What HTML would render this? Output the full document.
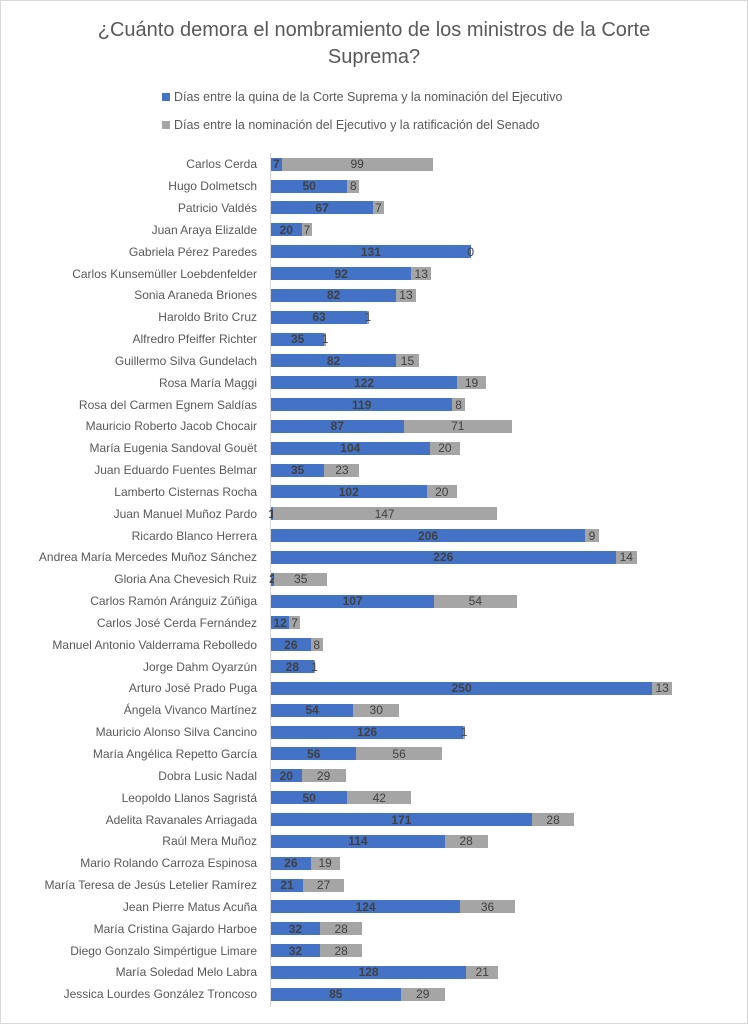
<!DOCTYPE html>
<html><head><meta charset="utf-8"><style>
body{margin:0;background:#fff}
#c{position:relative;width:746px;height:1022px;border:1px solid #d9d9d9;overflow:hidden;font-family:"Liberation Sans",sans-serif;color:#595959}
.t{position:absolute;left:0;width:746px;text-align:center;font-size:20px;line-height:27px}
.lg{position:absolute;left:161px;font-size:12.5px}
.lg i{display:inline-block;width:8px;height:8px;margin-right:4px;vertical-align:0}
.ax{position:absolute;left:269px;top:152px;width:1px;height:854px;background:#d9d9d9}
.r{position:absolute;left:0;height:13px;display:flex;align-items:center;font-size:12px}
.n{width:256px;text-align:right;padding-right:14px;white-space:nowrap;color:#595959}
.b,.g{height:13px;display:flex;justify-content:center;align-items:center;white-space:nowrap;color:#404040;font-size:12px}
.b{background:#4472c4;font-weight:bold}
.g{background:#a5a5a5}
</style></head><body><div id="c">
<div class="t" style="top:16px">¿Cuánto demora el nombramiento de los ministros de la Corte</div>
<div class="t" style="top:43px">Suprema?</div>
<div class="lg" style="top:89px"><i style="background:#4472c4"></i>Días entre la quina de la Corte Suprema y la nominación del Ejecutivo</div>
<div class="lg" style="top:117px"><i style="background:#a5a5a5"></i>Días entre la nominación del Ejecutivo y la ratificación del Senado</div>
<div class="ax"></div>
<div class="r" style="top:calc(156.8px + 21.84px*0)"><div class="n">Carlos Cerda</div><div class="b" style="width:calc(1.525px*7)">7</div><div class="g" style="width:calc(1.525px*99)">99</div></div>
<div class="r" style="top:calc(156.8px + 21.84px*1)"><div class="n">Hugo Dolmetsch</div><div class="b" style="width:calc(1.525px*50)">50</div><div class="g" style="width:calc(1.525px*8)">8</div></div>
<div class="r" style="top:calc(156.8px + 21.84px*2)"><div class="n">Patricio Valdés</div><div class="b" style="width:calc(1.525px*67)">67</div><div class="g" style="width:calc(1.525px*7)">7</div></div>
<div class="r" style="top:calc(156.8px + 21.84px*3)"><div class="n">Juan Araya Elizalde</div><div class="b" style="width:calc(1.525px*20)">20</div><div class="g" style="width:calc(1.525px*7)">7</div></div>
<div class="r" style="top:calc(156.8px + 21.84px*4)"><div class="n">Gabriela Pérez Paredes</div><div class="b" style="width:calc(1.525px*131)">131</div><div class="g" style="width:0">0</div></div>
<div class="r" style="top:calc(156.8px + 21.84px*5)"><div class="n">Carlos Kunsemüller Loebdenfelder</div><div class="b" style="width:calc(1.525px*92)">92</div><div class="g" style="width:calc(1.525px*13)">13</div></div>
<div class="r" style="top:calc(156.8px + 21.84px*6)"><div class="n">Sonia Araneda Briones</div><div class="b" style="width:calc(1.525px*82)">82</div><div class="g" style="width:calc(1.525px*13)">13</div></div>
<div class="r" style="top:calc(156.8px + 21.84px*7)"><div class="n">Haroldo Brito Cruz</div><div class="b" style="width:calc(1.525px*63)">63</div><div class="g" style="width:calc(1.525px*1)">1</div></div>
<div class="r" style="top:calc(156.8px + 21.84px*8)"><div class="n">Alfredro Pfeiffer Richter</div><div class="b" style="width:calc(1.525px*35)">35</div><div class="g" style="width:calc(1.525px*1)">1</div></div>
<div class="r" style="top:calc(156.8px + 21.84px*9)"><div class="n">Guillermo Silva Gundelach</div><div class="b" style="width:calc(1.525px*82)">82</div><div class="g" style="width:calc(1.525px*15)">15</div></div>
<div class="r" style="top:calc(156.8px + 21.84px*10)"><div class="n">Rosa María Maggi</div><div class="b" style="width:calc(1.525px*122)">122</div><div class="g" style="width:calc(1.525px*19)">19</div></div>
<div class="r" style="top:calc(156.8px + 21.84px*11)"><div class="n">Rosa del Carmen Egnem Saldías</div><div class="b" style="width:calc(1.525px*119)">119</div><div class="g" style="width:calc(1.525px*8)">8</div></div>
<div class="r" style="top:calc(156.8px + 21.84px*12)"><div class="n">Mauricio Roberto Jacob Chocair</div><div class="b" style="width:calc(1.525px*87)">87</div><div class="g" style="width:calc(1.525px*71)">71</div></div>
<div class="r" style="top:calc(156.8px + 21.84px*13)"><div class="n">María Eugenia Sandoval Gouët</div><div class="b" style="width:calc(1.525px*104)">104</div><div class="g" style="width:calc(1.525px*20)">20</div></div>
<div class="r" style="top:calc(156.8px + 21.84px*14)"><div class="n">Juan Eduardo Fuentes Belmar</div><div class="b" style="width:calc(1.525px*35)">35</div><div class="g" style="width:calc(1.525px*23)">23</div></div>
<div class="r" style="top:calc(156.8px + 21.84px*15)"><div class="n">Lamberto Cisternas Rocha</div><div class="b" style="width:calc(1.525px*102)">102</div><div class="g" style="width:calc(1.525px*20)">20</div></div>
<div class="r" style="top:calc(156.8px + 21.84px*16)"><div class="n">Juan Manuel Muñoz Pardo</div><div class="b" style="width:calc(1.525px*1)">1</div><div class="g" style="width:calc(1.525px*147)">147</div></div>
<div class="r" style="top:calc(156.8px + 21.84px*17)"><div class="n">Ricardo Blanco Herrera</div><div class="b" style="width:calc(1.525px*206)">206</div><div class="g" style="width:calc(1.525px*9)">9</div></div>
<div class="r" style="top:calc(156.8px + 21.84px*18)"><div class="n">Andrea María Mercedes Muñoz Sánchez</div><div class="b" style="width:calc(1.525px*226)">226</div><div class="g" style="width:calc(1.525px*14)">14</div></div>
<div class="r" style="top:calc(156.8px + 21.84px*19)"><div class="n">Gloria Ana Chevesich Ruiz</div><div class="b" style="width:calc(1.525px*2)">2</div><div class="g" style="width:calc(1.525px*35)">35</div></div>
<div class="r" style="top:calc(156.8px + 21.84px*20)"><div class="n">Carlos Ramón Aránguiz Zúñiga</div><div class="b" style="width:calc(1.525px*107)">107</div><div class="g" style="width:calc(1.525px*54)">54</div></div>
<div class="r" style="top:calc(156.8px + 21.84px*21)"><div class="n">Carlos José Cerda Fernández</div><div class="b" style="width:calc(1.525px*12)">12</div><div class="g" style="width:calc(1.525px*7)">7</div></div>
<div class="r" style="top:calc(156.8px + 21.84px*22)"><div class="n">Manuel Antonio Valderrama Rebolledo</div><div class="b" style="width:calc(1.525px*26)">26</div><div class="g" style="width:calc(1.525px*8)">8</div></div>
<div class="r" style="top:calc(156.8px + 21.84px*23)"><div class="n">Jorge Dahm Oyarzún</div><div class="b" style="width:calc(1.525px*28)">28</div><div class="g" style="width:calc(1.525px*1)">1</div></div>
<div class="r" style="top:calc(156.8px + 21.84px*24)"><div class="n">Arturo José Prado Puga</div><div class="b" style="width:calc(1.525px*250)">250</div><div class="g" style="width:calc(1.525px*13)">13</div></div>
<div class="r" style="top:calc(156.8px + 21.84px*25)"><div class="n">Ángela Vivanco Martínez</div><div class="b" style="width:calc(1.525px*54)">54</div><div class="g" style="width:calc(1.525px*30)">30</div></div>
<div class="r" style="top:calc(156.8px + 21.84px*26)"><div class="n">Mauricio Alonso Silva Cancino</div><div class="b" style="width:calc(1.525px*126)">126</div><div class="g" style="width:calc(1.525px*1)">1</div></div>
<div class="r" style="top:calc(156.8px + 21.84px*27)"><div class="n">María Angélica Repetto García</div><div class="b" style="width:calc(1.525px*56)">56</div><div class="g" style="width:calc(1.525px*56)">56</div></div>
<div class="r" style="top:calc(156.8px + 21.84px*28)"><div class="n">Dobra Lusic Nadal</div><div class="b" style="width:calc(1.525px*20)">20</div><div class="g" style="width:calc(1.525px*29)">29</div></div>
<div class="r" style="top:calc(156.8px + 21.84px*29)"><div class="n">Leopoldo Llanos Sagristá</div><div class="b" style="width:calc(1.525px*50)">50</div><div class="g" style="width:calc(1.525px*42)">42</div></div>
<div class="r" style="top:calc(156.8px + 21.84px*30)"><div class="n">Adelita Ravanales Arriagada</div><div class="b" style="width:calc(1.525px*171)">171</div><div class="g" style="width:calc(1.525px*28)">28</div></div>
<div class="r" style="top:calc(156.8px + 21.84px*31)"><div class="n">Raúl Mera Muñoz</div><div class="b" style="width:calc(1.525px*114)">114</div><div class="g" style="width:calc(1.525px*28)">28</div></div>
<div class="r" style="top:calc(156.8px + 21.84px*32)"><div class="n">Mario Rolando Carroza Espinosa</div><div class="b" style="width:calc(1.525px*26)">26</div><div class="g" style="width:calc(1.525px*19)">19</div></div>
<div class="r" style="top:calc(156.8px + 21.84px*33)"><div class="n">María Teresa de Jesús Letelier Ramírez</div><div class="b" style="width:calc(1.525px*21)">21</div><div class="g" style="width:calc(1.525px*27)">27</div></div>
<div class="r" style="top:calc(156.8px + 21.84px*34)"><div class="n">Jean Pierre Matus Acuña</div><div class="b" style="width:calc(1.525px*124)">124</div><div class="g" style="width:calc(1.525px*36)">36</div></div>
<div class="r" style="top:calc(156.8px + 21.84px*35)"><div class="n">María Cristina Gajardo Harboe</div><div class="b" style="width:calc(1.525px*32)">32</div><div class="g" style="width:calc(1.525px*28)">28</div></div>
<div class="r" style="top:calc(156.8px + 21.84px*36)"><div class="n">Diego Gonzalo Simpértigue Limare</div><div class="b" style="width:calc(1.525px*32)">32</div><div class="g" style="width:calc(1.525px*28)">28</div></div>
<div class="r" style="top:calc(156.8px + 21.84px*37)"><div class="n">María Soledad Melo Labra</div><div class="b" style="width:calc(1.525px*128)">128</div><div class="g" style="width:calc(1.525px*21)">21</div></div>
<div class="r" style="top:calc(156.8px + 21.84px*38)"><div class="n">Jessica Lourdes González Troncoso</div><div class="b" style="width:calc(1.525px*85)">85</div><div class="g" style="width:calc(1.525px*29)">29</div></div>
</div></body></html>
